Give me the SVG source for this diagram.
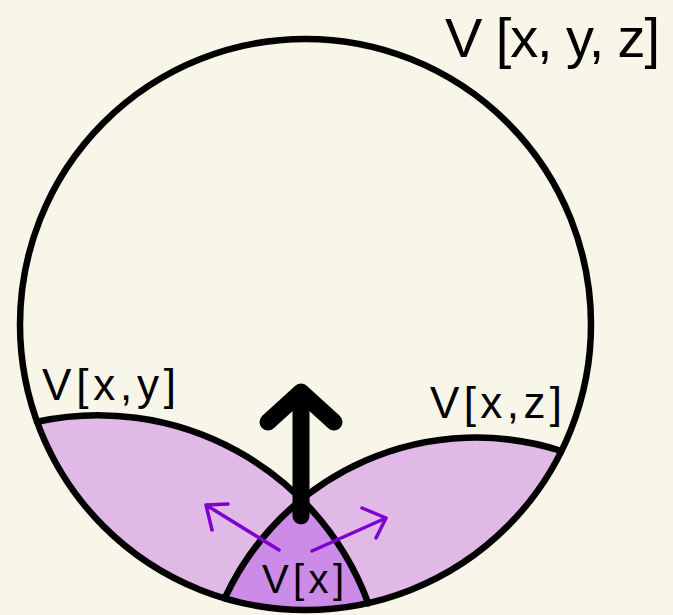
<svg xmlns="http://www.w3.org/2000/svg" width="673" height="615" viewBox="0 0 673 615">
<defs>
<style>
.bg{fill:#f7f6e9}
.lens{fill:#e1b9e6;stroke:none}
.core{fill:#cc8be6;stroke:none}
.edge{fill:none;stroke:#000;stroke-width:6.5;stroke-linecap:round}
.lbl{font-family:"Liberation Sans","DejaVu Sans",sans-serif;fill:#000}
.big{fill:none;stroke:#000;stroke-width:17;stroke-linecap:round;stroke-linejoin:round}
.pur{fill:none;stroke:#7d00d2;stroke-width:3.5;stroke-linecap:round;stroke-linejoin:round}
</style>
</defs>
<rect class="bg" x="0" y="0" width="673" height="615"/>
<g id="vxy">
<path class="lens" d="M 37.0 421.7 A 288.2 288.2 0 0 1 368.2 603.1 A 285.5 285.5 0 0 1 37.0 421.7 Z"/>
<path class="edge" d="M 37.0 421.7 A 288.2 288.2 0 0 1 368.2 603.1"/>
<text class="lbl" x="42" y="400" font-size="44" textLength="134" lengthAdjust="spacing">V[x,y]</text>
</g>
<g id="vxz">
<path class="lens" d="M 224.8 598.4 A 276.9 276.9 0 0 1 561.4 451.0 A 285.5 285.5 0 0 1 224.8 598.4 Z"/>
<path class="edge" d="M 224.8 598.4 A 276.9 276.9 0 0 1 561.4 451.0"/>
<text class="lbl" x="430" y="418" font-size="44" textLength="132" lengthAdjust="spacing">V[x,z]</text>
</g>
<g id="vx">
<path class="core" d="M 301.7 499.4 A 276.9 276.9 0 0 0 224.8 598.4 A 285.5 285.5 0 0 0 368.2 603.1 A 288.2 288.2 0 0 0 301.7 499.4 Z"/>
<path class="edge" d="M 224.8 598.4 A 276.9 276.9 0 0 1 301.7 499.4 A 288.2 288.2 0 0 1 368.2 603.1"/>
<text class="lbl" x="262" y="593" font-size="40" textLength="82" lengthAdjust="spacing">V[x]</text>
</g>
<g id="vxyz">
<circle class="edge" cx="305.5" cy="324.5" r="285.5"/>
<text class="lbl" x="445" y="57" font-size="56" textLength="215" lengthAdjust="spacing">V [x, y, z]</text>
</g>
<g id="connectors">
<path class="big" d="M 301 516 L 301 393 M 268 422 L 301 392 L 334 422"/>
<path class="pur" d="M 279 550 L 206 505 M 228 504 L 206 505 L 212 530"/>
<path class="pur" d="M 312 551 L 386 518 M 362 508 L 386 518 L 376 538"/>
</g>
</svg>
